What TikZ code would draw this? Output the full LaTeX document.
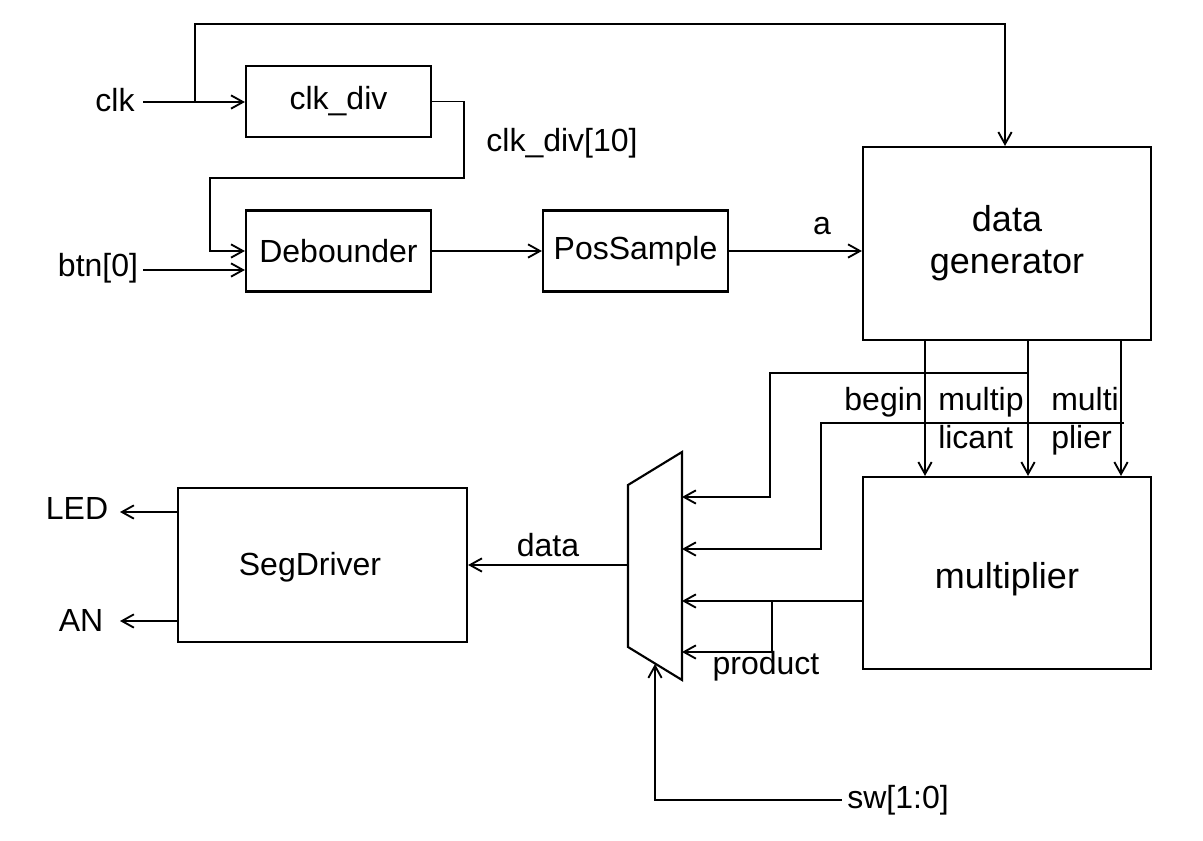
\documentclass[tikz,border=0pt]{standalone}
\usepackage{fontspec}
\setmainfont{Liberation Sans}
\usetikzlibrary{arrows.meta}

\begin{document}
\begin{tikzpicture}
[x=0.75pt, y=-0.75pt, >={Straight Barb[length=9pt,width=10pt]},
 every node/.style={inner sep=0pt},
 block/.style={draw=black, line width=1.6pt, font=\fontsize{24}{28}\selectfont},
 bigblock/.style={draw=black, line width=1.6pt, font=\fontsize{27}{31.5}\selectfont, align=center},
 sig/.style={font=\fontsize{24}{28}\selectfont},
 big/.style={font=\fontsize{27}{31.5}\selectfont},
 wire/.style={line width=1.4pt, color=black}]
\useasboundingbox (0,0) rectangle (1203,841);
% blocks
\node (clkdiv) [block, minimum width=138.75pt, minimum height=53.25pt] at (338.5, 101.5) {clk\_div};
\node (deb) [block, minimum width=138.75pt, minimum height=60.75pt] at (338.5, 251) {Debounder};
\node (pos) [block, minimum width=138.75pt, minimum height=60.75pt] at (635.5, 251) {PosSample};
\node (gen) [bigblock, minimum width=216pt, minimum height=144.75pt] at (1007, 243.5) {data\\generator};
\node (mult) [bigblock, minimum width=216pt, minimum height=144pt] at (1007, 573) {};
\node (multtxt) [big] at (1007, 579) {multiplier};
\node (seg) [block, minimum width=216.75pt, minimum height=115.5pt] at (322.5, 565) {};
\node (segtxt) [sig] at (310, 567) {SegDriver};
% mux
\draw [line width=1.6pt] (628, 485) -- (682, 452) -- (682, 680) -- (628, 647) -- cycle;
\coordinate (mout) at (628, 565);
\coordinate (mi1) at (682, 497);
\coordinate (mi2) at (682, 549);
\coordinate (mi3) at (682, 601);
\coordinate (mi4) at (682, 652);
\coordinate (msel) at (655, 664);
% labels
\node (clk) [sig] at (115, 100) {clk};
\node (btn) [sig] at (98, 268) {btn[0]};
\node (clkdivlbl) [sig] at (562, 143) {clk\_div[10]};
\node (albl) [sig] at (822, 226) {a};
\node (datalbl) [sig] at (548, 545) {data};
\node (prodlbl) [sig] at (766, 666) {product};
\node (sw) [sig, inner xsep=4pt] at (898, 800) {sw[1:0]};
\node (led) [sig] at (77, 508) {LED};
\node (an) [sig] at (81, 620) {AN};
\node (beglbl) [sig, anchor=base east] at (923, 411) {begin};
\node (mcdlbl1) [sig, anchor=base west] at (938, 411) {multip};
\node (mcdlbl2) [sig, anchor=base west] at (938, 449) {licant};
\node (mlrlbl1) [sig, anchor=base west] at (1051, 411) {multi};
\node (mlrlbl2) [sig, anchor=base west] at (1051, 449) {plier};
% wire ends
\coordinate (clkin) at (143, 102);
\coordinate (clkbr) at (195, 102);
\coordinate (btnin) at (143, 270);
\coordinate (ledout) at (178, 512);
\coordinate (ledend) at (120, 512);
\coordinate (anout) at (178, 621);
\coordinate (anend) at (120, 621);
\coordinate (xbeg) at (925, 0);
\coordinate (xmcd) at (1028, 0);
\coordinate (xmlr) at (1121, 0);
\coordinate (j1) at (1028, 373);
\coordinate (j2) at (1124, 423);
\coordinate (ptap) at (772, 601);
% wires
\draw [wire, ->] (clkin) -- (clkin -| clkdiv.west);
\draw [wire, ->] (clkbr) -- ++(0, -78) -| ([xshift=-1.5pt]gen.north);
\draw [wire, ->] (clkdiv.east) -- (464, 101.5) |- (210, 178) |- (deb.west);
\draw [wire, ->] (btnin) -- (btnin -| deb.west);
\draw [wire, ->] (deb) -- (pos);
\draw [wire, ->] (pos.east) -- (pos.east -| gen.west);
\foreach \c in {xbeg, xmcd, xmlr}
  \draw [wire, ->] (\c |- gen.south) -- (\c |- mult.north);
\draw [wire, ->] (j1) -| (770, 497) -- (mi1);
\draw [wire, ->] (j2) -| (821, 549) -- (mi2);
\draw [wire, ->] (mult.west |- mi3) -- (mi3);
\draw [wire, ->] (ptap) |- (mi4);
\draw [wire, ->] (mout) -- (mout -| seg.east);
\draw [wire, ->] (sw.west) -| (msel);
\draw [wire, ->] (ledout) -- (ledend);
\draw [wire, ->] (anout) -- (anend);
\end{tikzpicture}
\end{document}
